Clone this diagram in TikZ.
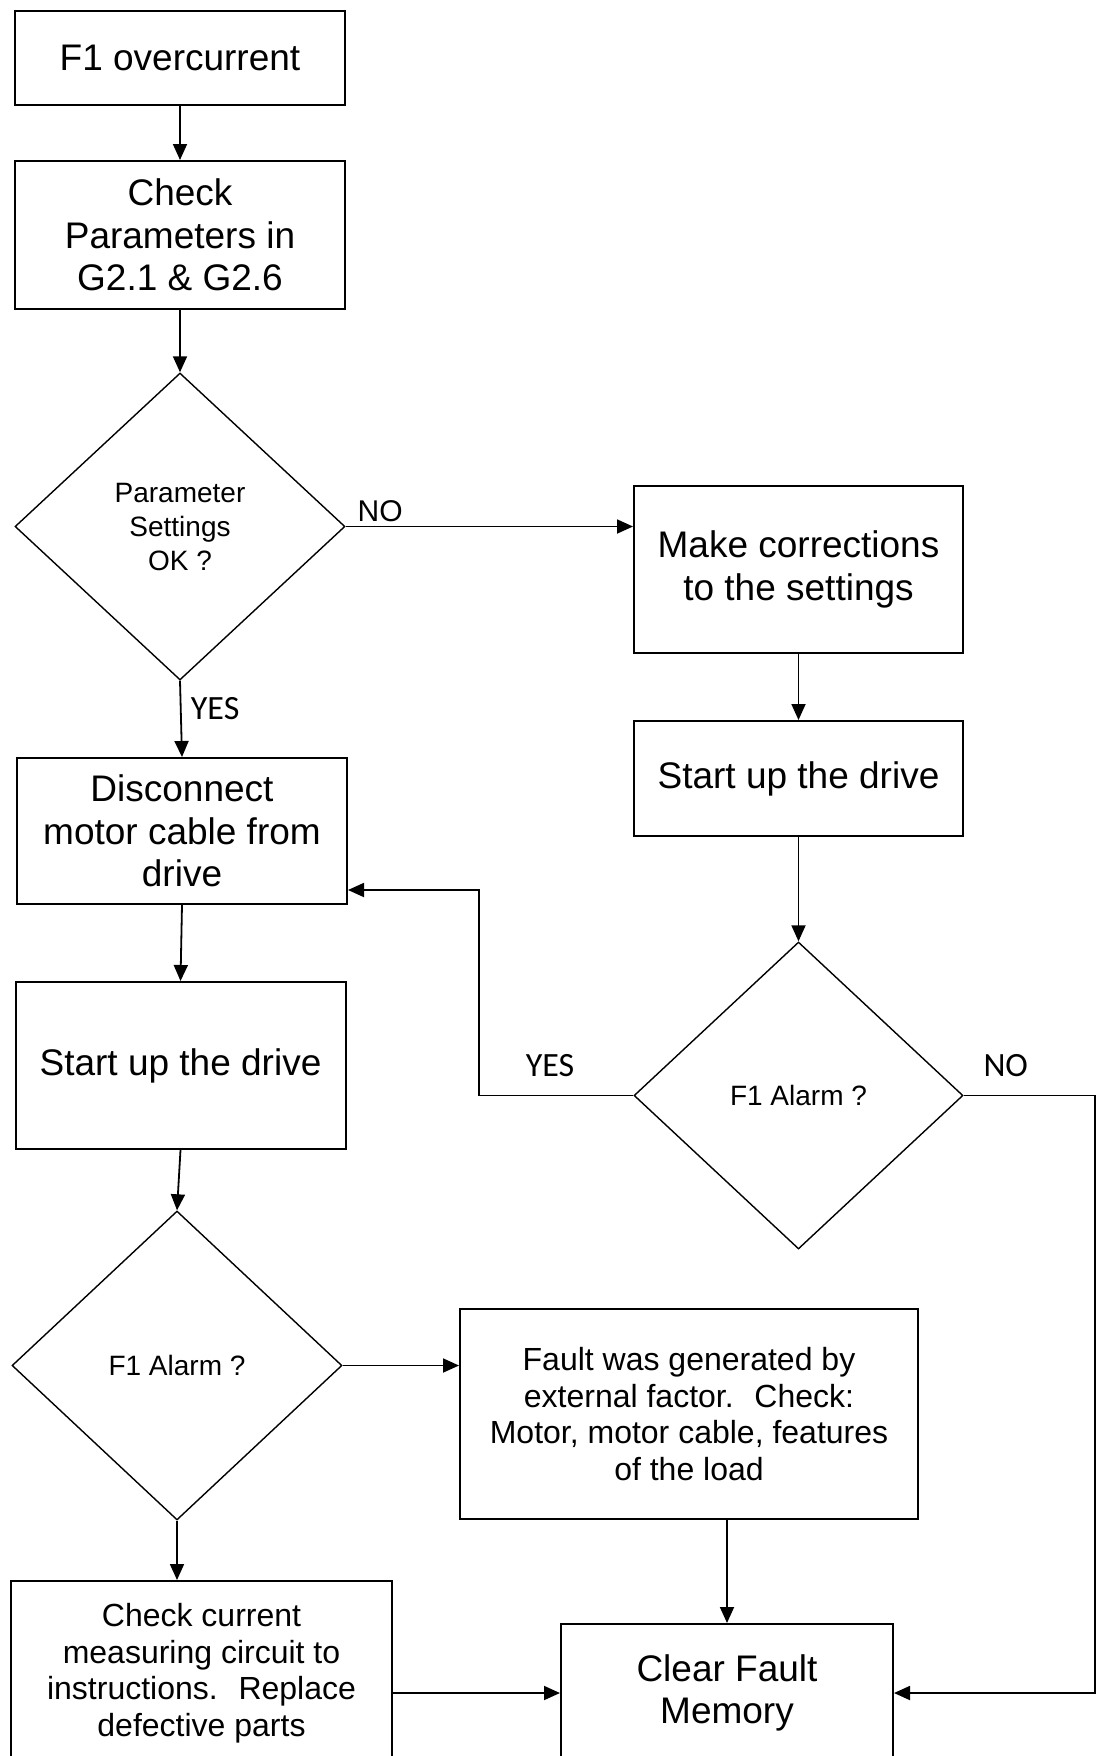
\documentclass[tikz,border=0pt]{standalone}
\usepackage{fontspec}
\setmainfont{Liberation Sans}
\newfontfamily\answerfont{Carlito}
\usetikzlibrary{arrows.meta,shapes.geometric,positioning}

\begin{document}
\begin{tikzpicture}[x=1pt,y=-1pt,>={Triangle[length=16pt,width=14pt]},
                    line width=1.8pt]
  \tikzstyle{block}=[draw,rectangle,line width=2pt,inner sep=0pt,align=center,
                     minimum width=330pt,font=\fontsize{37}{42.5}\selectfont]
  \tikzstyle{note}=[block,font=\fontsize{32}{36.5}\selectfont]
  \tikzstyle{decision}=[draw,diamond,line width=1.4pt,inner sep=0pt,align=center,
                        minimum width=330pt,minimum height=307pt,
                        font=\fontsize{28}{34}\selectfont]
  \tikzstyle{answer}=[inner sep=0pt,font=\answerfont\fontsize{34}{40}\selectfont]

  \useasboundingbox (0,0) rectangle (1102,1756);

  % left column
  \node[block,minimum height=94pt]  (start)  at (180,58)     {F1 overcurrent};
  \node[block,minimum height=148pt] (chkpar) at (180,235)    {Check\\Parameters in\\G2.1 \& G2.6};
  \node[decision]                   (dec1)   at (180,526.5)  {Parameter\\Settings\\OK ?};
  \node[block,minimum height=146pt] (disc)   at (182,831)    {Disconnect\\motor cable from\\drive};
  \node[block,minimum height=167pt] (drvl)   at (180.5,1065.5) {Start up the drive};
  \node[decision,minimum height=309pt] (dec2) at (177,1365.5) {F1 Alarm ?};
  \node[note,minimum width=381pt,minimum height=184pt] (chkcur) at (201.5,1673)
        {Check current\\measuring circuit to\\instructions.~ Replace\\defective parts};

  % right column
  \node[block,minimum width=329pt,minimum height=167pt] (corr) at (798.5,569.5) {Make corrections\\to the settings};
  \node[block,minimum width=329pt,minimum height=115pt] (drvr) at (798.5,778.5) {Start up the drive};
  \node[decision,minimum width=329pt] (dec3) at (798.5,1095.5) {F1 Alarm ?};
  \node[note,minimum width=458pt,minimum height=210pt] (fault) at (689,1414)
        {Fault was generated by\\external factor.~ Check:\\Motor, motor cable, features\\of the load};
  \node[block,minimum width=332pt,minimum height=138pt] (clear) at (727,1693) {Clear Fault\\Memory};

  \coordinate (yesturn) at (479,890);
  \coordinate (noturn)  at (1095,1691);

  \draw[->] (start.south) -- (chkpar.north);
  \draw[->] (chkpar.south) -- (dec1.north);
  \draw[->] (dec1.east) -- node[pos=0,anchor=south west,inner sep=0pt,xshift=11pt,yshift=4pt,
            font=\fontsize{30}{34}\selectfont] {NO} (dec1.east -| corr.west);
  \draw[->] (dec1.south) -- node[pos=0.51,anchor=base west,xshift=9pt,answer] {YES} (disc.north);
  \draw[->] (disc.south) -- (drvl.north);
  \draw[->] (drvl.south) -- (dec2.north);
  \draw[->] (dec2.east) -- (dec2.east -| fault.west);
  \draw[->] (dec2.south) -- (dec2.south |- chkcur.north);
  \draw[->] (corr.south) -- (drvr.north);
  \draw[->] (drvr.south) -- (dec3.north);
  \draw[->] (dec3.west) -| node[pos=0.27,anchor=base,yshift=19pt,answer] {YES} (yesturn)
            -- (yesturn -| disc.east);
  \draw[->] (dec3.east) -| node[pos=0.16,anchor=base,yshift=19pt,answer] {NO} (noturn |- clear.east)
            -- (clear.east);
  \draw[->] (clear.north |- fault.south) -- (clear.north);
  \draw[->] (chkcur.east |- clear.west) -- (clear.west);
\end{tikzpicture}
\end{document}
